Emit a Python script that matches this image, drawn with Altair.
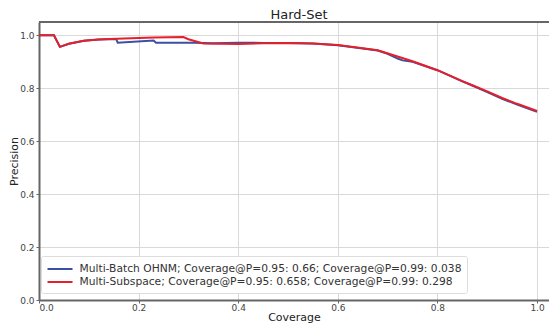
import altair as alt
import pandas as pd

name_blue = "Multi-Batch OHNM; Coverage@P=0.95: 0.66; Coverage@P=0.99: 0.038"
name_red = "Multi-Subspace; Coverage@P=0.95: 0.658; Coverage@P=0.99: 0.298"

blue_cov = [0.0, 0.03, 0.042, 0.06, 0.09, 0.12, 0.155, 0.158, 0.23, 0.235, 0.295, 0.31, 0.35, 0.4, 0.45, 0.5, 0.55, 0.6, 0.65, 0.68, 0.70, 0.72, 0.73, 0.75, 0.8, 0.85, 0.87, 0.9, 0.93, 0.96, 1.0]
blue_prec = [1.0, 1.0, 0.956, 0.968, 0.979, 0.984, 0.986, 0.972, 0.980, 0.972, 0.972, 0.972, 0.970, 0.972, 0.971, 0.971, 0.969, 0.962, 0.950, 0.942, 0.930, 0.912, 0.905, 0.900, 0.868, 0.826, 0.810, 0.785, 0.760, 0.738, 0.711]

red_cov = [0.0, 0.03, 0.042, 0.06, 0.09, 0.12, 0.156, 0.2, 0.23, 0.29, 0.30, 0.33, 0.4, 0.45, 0.5, 0.55, 0.6, 0.65, 0.68, 0.72, 0.75, 0.8, 0.85, 0.87, 0.9, 0.93, 0.96, 1.0]
red_prec = [1.0, 1.0, 0.956, 0.968, 0.979, 0.984, 0.987, 0.990, 0.991, 0.993, 0.985, 0.969, 0.967, 0.970, 0.971, 0.969, 0.963, 0.951, 0.943, 0.920, 0.902, 0.868, 0.827, 0.811, 0.788, 0.763, 0.741, 0.714]

top_limit = [1.05]

x_ticks = [0.0, 0.2, 0.4, 0.6, 0.8, 1.0]
y_ticks = [0.0, 0.2, 0.4, 0.6, 0.8, 1.0]

df_blue = pd.DataFrame({"Coverage": blue_cov, "Precision": blue_prec, "series": name_blue})
df_red = pd.DataFrame({"Coverage": red_cov, "Precision": red_prec, "series": name_red})
df_top = pd.DataFrame({"y": top_limit})

xscale = alt.Scale(domain=[0, 1.024], nice=False, zero=False)
yscale = alt.Scale(domain=[0, 1.05], nice=False)

color = alt.Color(
    "series:N",
    scale=alt.Scale(domain=[name_blue, name_red], range=["#3b4fa3", "#e3202b"]),
    legend=alt.Legend(
        title=None,
        orient="none",
        legendX=2,
        legendY=234,
        symbolType="M-1,0H2.85",
        symbolSize=169,
        symbolStrokeWidth=2,
        labelOffset=18,
        labelFont="DejaVu Sans",
        labelFontSize=10.7,
        labelColor="#333",
        fillColor="white",
        strokeColor="#dddddd",
        padding=5.5,
        rowPadding=0,
        labelLimit=600,
        cornerRadius=2,
    ),
)

x_enc = alt.X(
    "Coverage:Q",
    scale=xscale,
    axis=alt.Axis(values=x_ticks, format=".1f", title="Coverage", titleY=22, titleBaseline="bottom", labelPadding=0),
)
y_enc = alt.Y(
    "Precision:Q",
    scale=yscale,
    axis=alt.Axis(values=y_ticks, format=".1f", title="Precision"),
)

blue = alt.Chart(df_blue).mark_line(strokeWidth=2).encode(x=x_enc, y=y_enc, color=color)
red = alt.Chart(df_red).mark_line(strokeWidth=2).encode(x=x_enc, y=y_enc, color=color)
top = alt.Chart(df_top).mark_rule(color="#666666", strokeWidth=2).encode(y=alt.Y("y:Q", scale=yscale))

chart = (
    alt.layer(blue, red, top)
    .properties(
        width=510,
        height=278,
        autosize=alt.AutoSizeParams(type="none"),
        padding={"left": 31, "top": 14, "right": 0, "bottom": 25},
        title=alt.TitleParams("Hard-Set", fontSize=13, font="DejaVu Sans", fontWeight="normal", color="#222", dx=5, dy=3, offset=2),
    )
    .configure_view(stroke=None)
    .configure_axis(
        labelFont="DejaVu Sans",
        labelFontSize=9,
        labelColor="#444",
        titleFont="DejaVu Sans",
        titleFontSize=11,
        titleFontWeight="normal",
        titleColor="#222",
        gridColor="#d9d9d9",
        gridWidth=1,
        domainColor="#666666",
        domainWidth=2,
        tickColor="#666666",
        tickSize=3,
        labelPadding=2,
    )
    .configure_axisY(titlePadding=0)
)

chart.save("out.html", embed_options={"renderer": "svg", "actions": False})
